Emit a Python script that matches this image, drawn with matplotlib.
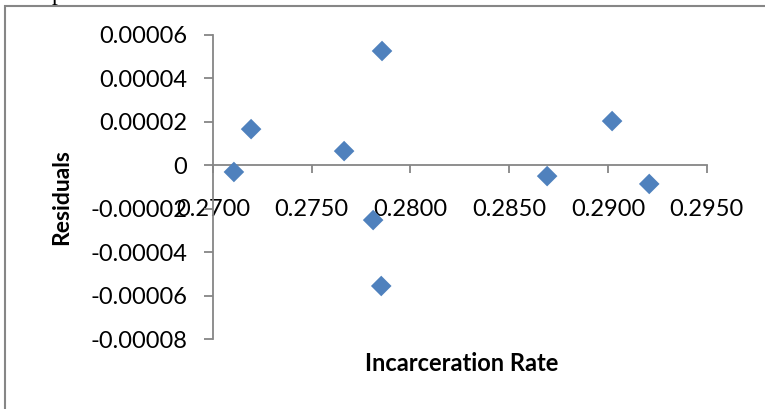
"""
residual plot for incarceration rate regression
"""

import matplotlib
matplotlib.use('Agg')
import matplotlib.pyplot as plt
from matplotlib.patches import Rectangle

# incarceration rate (x) against residuals (y)
rate = [0.27106, 0.27193, 0.27664, 0.27856, 0.27811, 0.27852, 0.28692, 0.29021, 0.29209]
residuals = [-0.0000031, 0.0000166, 0.0000065, 0.0000525, -0.0000252, -0.0000555,
             -0.0000050, 0.0000203, -0.0000086]

x_ticks = [0.2700, 0.2750, 0.2800, 0.2850, 0.2900, 0.2950]
y_ticks = [-0.00008, -0.00006, -0.00004, -0.00002, 0, 0.00002, 0.00004, 0.00006]

axis_grey = '#868686'
marker_blue = '#4F81BD'

plt.rcParams['font.family'] = ['Lato', 'DejaVu Sans']

fig = plt.figure(figsize=(7.65, 4.09), dpi=100)
ax = fig.add_axes([0.2784, 0.1704, 0.6454, 0.7448])

ax.scatter(rate, residuals, marker='D', s=110, color=marker_blue,
           edgecolors='none', zorder=3, clip_on=False)

ax.set_xlim(x_ticks[0], x_ticks[-1])
ax.set_ylim(y_ticks[0], y_ticks[-1])
ax.set_xticks(x_ticks)
ax.set_xticklabels(['%.4f' % v for v in x_ticks])
ax.set_yticks(y_ticks)
ax.set_yticklabels(['0' if v == 0 else '%.5f' % v for v in y_ticks])

# excel style: x axis crosses at zero, only left and bottom lines
ax.spines['top'].set_visible(False)
ax.spines['right'].set_visible(False)
ax.spines['bottom'].set_position(('data', 0))
for side in ('left', 'bottom'):
    ax.spines[side].set_color(axis_grey)
    ax.spines[side].set_linewidth(1.3)

ax.tick_params(axis='x', direction='out', length=5.5, width=1.3, color=axis_grey,
               labelsize=17, pad=19)
ax.tick_params(axis='y', direction='out', length=6.5, width=1.3, color=axis_grey,
               labelsize=17, pad=12)

fig.text(0.081, 0.518, 'Residuals', rotation=90, ha='center', va='center',
         fontsize=16.5, fontweight='bold')
fig.text(0.603, 0.112, 'Incarceration Rate', ha='center', va='center',
         fontsize=17, fontweight='bold')

# chart frame, runs off the right and bottom edges
fig.patches.append(Rectangle((5 / 765, -0.1), 1.2, 1.1 - 6 / 409,
                             transform=fig.transFigure, fill=False,
                             edgecolor=axis_grey, linewidth=1.5))

# tail of the caption line above the chart
fig.text(0.075, 1.0, 'p', ha='center', va='baseline', fontsize=17,
         family='Liberation Serif')

fig.savefig('out.png', dpi=100)
